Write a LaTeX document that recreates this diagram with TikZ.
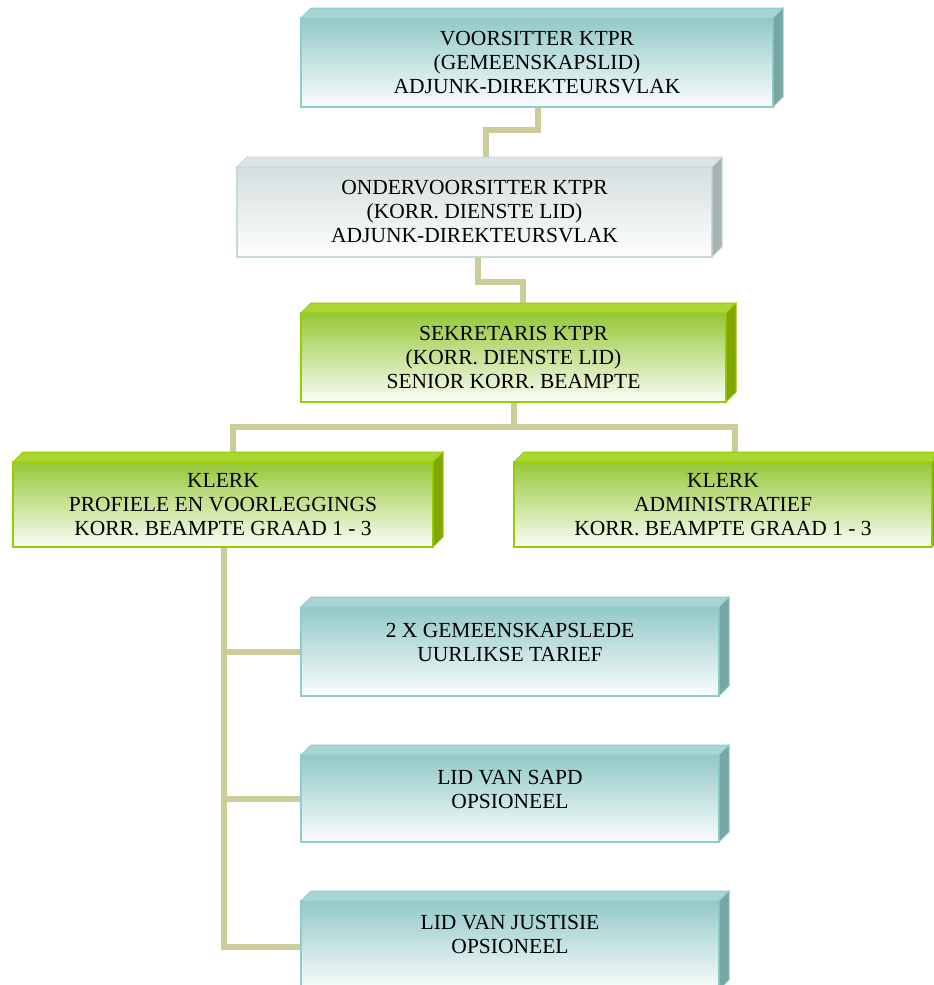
\documentclass[tikz,border=0pt]{standalone}
\usepackage{fontspec}
\setmainfont{Liberation Serif}
\usetikzlibrary{calc,backgrounds}
\definecolor{connc}{RGB}{204,204,153}
\definecolor{tealfront}{RGB}{146,201,200}
\definecolor{tealtop}{RGB}{168,213,212}
\definecolor{tealside}{RGB}{120,166,163}
\definecolor{tealborder}{RGB}{141,205,202}
\definecolor{greyfront}{RGB}{213,223,223}
\definecolor{greytop}{RGB}{220,228,228}
\definecolor{greyside}{RGB}{168,180,180}
\definecolor{greyborder}{RGB}{200,216,216}
\definecolor{greenfront}{RGB}{150,200,55}
\definecolor{greentop}{RGB}{170,214,50}
\definecolor{greenside}{RGB}{128,166,0}
\definecolor{greenborder}{RGB}{153,204,0}
\newcommand\cubefaces[4]{%
  \path[fill=#2,draw=#4,line width=1pt] (#1.north west) -- ++(10,-10) -- ($(#1.north east)+(10,-10)$) -- (#1.north east) -- cycle;
  \path[fill=#3,draw=#4,line width=1pt] (#1.north east) -- ++(10,-10) -- ($(#1.south east)+(10,-10)$) -- (#1.south east) -- cycle;}
\tikzset{
  frontbox/.style={rectangle, anchor=north west, outer sep=0pt, inner sep=0pt, line width=1.5pt},
  tealbox/.style={frontbox, draw=tealborder, top color=tealfront, bottom color=white!96!tealfront},
  greybox/.style={frontbox, draw=greyborder, top color=greyfront, bottom color=white!97!greyfront},
  greenbox/.style={frontbox, draw=greenborder, top color=greenfront, bottom color=white!96!greenfront},
  txt/.style={align=center, inner sep=0pt, font=\fontsize{21.5}{24}\selectfont},
  conn/.style={draw=connc, line width=6pt}
}
\begin{document}
\begin{tikzpicture}[x=1pt,y=-1pt]
\useasboundingbox (0,0) rectangle (934,985);
\clip (0,0) rectangle (934,985);
% boxes
\node[tealbox, minimum width=472pt, minimum height=89pt] (v) at (301,18) {};
\cubefaces{v}{tealtop}{tealside}{tealborder}
\node[txt] (vt) at (v.center) {VOORSITTER KTPR\\(GEMEENSKAPSLID)\\ADJUNK-DIREKTEURSVLAK};

\node[greybox, minimum width=475pt, minimum height=90pt] (ov) at (237,167) {};
\cubefaces{ov}{greytop}{greyside}{greyborder}
\node[txt] (ovt) at (ov.center) {ONDERVOORSITTER KTPR\\(KORR. DIENSTE LID)\\ADJUNK-DIREKTEURSVLAK};

\node[greenbox, minimum width=425pt, minimum height=89pt] (sek) at (301,313) {};
\cubefaces{sek}{greentop}{greenside}{greenborder}
\node[txt] (sekt) at (sek.center) {SEKRETARIS KTPR\\(KORR. DIENSTE LID)\\SENIOR KORR. BEAMPTE};

\node[greenbox, minimum width=420pt, minimum height=85pt] (k1) at (13,462) {};
\cubefaces{k1}{greentop}{greenside}{greenborder}
\node[txt] (k1t) at (k1.center) {KLERK\\PROFIELE EN VOORLEGGINGS\\KORR. BEAMPTE GRAAD 1 - 3};

\node[greenbox, minimum width=418pt, minimum height=85pt] (k2) at (514,462) {};
\cubefaces{k2}{greentop}{greenside}{greenborder}
\node[txt] (k2t) at (k2.center) {KLERK\\ADMINISTRATIEF\\KORR. BEAMPTE GRAAD 1 - 3};

\node[tealbox, minimum width=418pt, minimum height=89pt] (gem) at (301,607) {};
\cubefaces{gem}{tealtop}{tealside}{tealborder}
\node[txt] (gemt) at ($(gem.center)+(0,-9)$) {2 X GEMEENSKAPSLEDE\\UURLIKSE TARIEF};

\node[tealbox, minimum width=418pt, minimum height=87pt] (sapd) at (301,755) {};
\cubefaces{sapd}{tealtop}{tealside}{tealborder}
\node[txt] (sapdt) at ($(sapd.center)+(0,-9)$) {LID VAN SAPD\\OPSIONEEL};

\node[tealbox, minimum width=418pt, minimum height=89pt] (just) at (301,901) {};
\cubefaces{just}{tealtop}{tealside}{tealborder}
\node[txt] (justt) at ($(just.center)+(0,-11)$) {LID VAN JUSTISIE\\OPSIONEEL};

% connectors
\begin{scope}[on background layer]
\draw[conn] ($(v.south)+(1,0)$) -- ++(0,23) -| ($(ov.north)+(11.5,0)$);
\draw[conn] ($(ov.south)+(3.5,0)$) -- ++(0,25) -| ($(sek.north)+(9.5,0)$);
\draw[conn] ($(sek.south)+(0.5,0)$) -- ++(0,25) coordinate (bus);
\draw[conn] ($(k1.north)+(10,0)$) |- (bus) -| ($(k2.north)+(12,0)$);
\coordinate (tk) at ($(k1.south)+(1,0)$);
\draw[conn] (tk) |- (gem.west);
\draw[conn] (tk) |- (sapd.west);
\draw[conn] (tk) |- ($(just.west)+(0,1.5)$);
\end{scope}
\end{tikzpicture}
\end{document}
